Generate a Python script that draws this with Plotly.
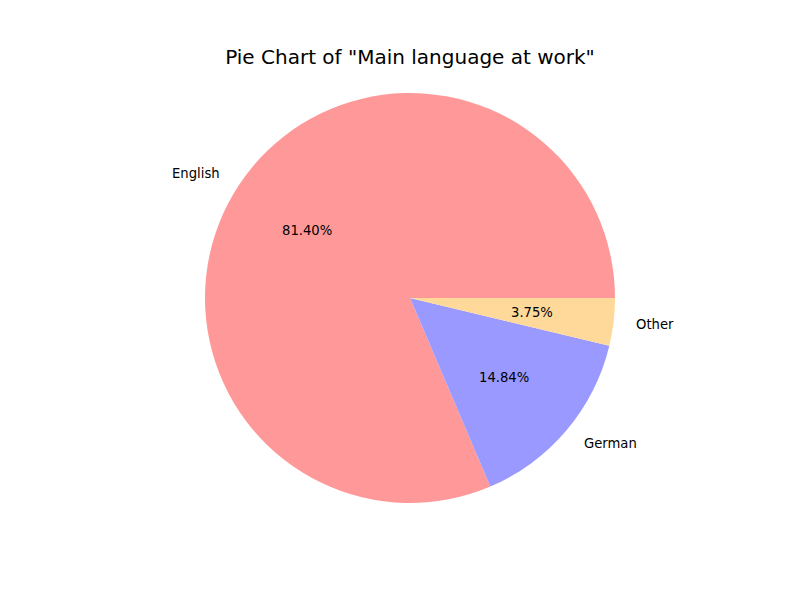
import math
import plotly.graph_objects as go

labels = ["English", "German", "Other"]
values = [81.40, 14.84, 3.75]
colors = ["#ff9999", "#9999ff", "#ffd999"]
title = 'Pie Chart of "Main language at work"'

W, H = 800, 600
cx, cy, r = 410, 298, 205  # pixel geometry of the pie

total = sum(values)
# counterclockwise from 3 o'clock (matplotlib startangle=0)
rot = 90 + 360 * (total - values[0]) / total

fig = go.Figure()
fig.add_trace(go.Pie(
    labels=labels, values=values, sort=False, direction="counterclockwise",
    rotation=rot, marker=dict(colors=colors, line=dict(width=0)),
    textinfo="none", hoverinfo="label+percent", showlegend=False,
    domain=dict(x=[(cx - r) / W, (cx + r) / W], y=[1 - (cy + r) / H, 1 - (cy - r) / H]),
))

ann = []
start = 0.0
for lab, v in zip(labels, values):
    frac = v / total
    mid = math.radians((start + frac / 2) * 360)
    start += frac
    c, s = math.cos(mid), math.sin(mid)
    # outer label at 1.1 r
    lx = cx + 1.1 * r * c
    ly = cy - 1.1 * r * s
    ann.append(dict(x=lx / W, y=1 - ly / H, xref="paper", yref="paper", text=lab,
                    showarrow=False, xanchor="left" if c > 0 else "right", yanchor="middle",
                    font=dict(family="DejaVu Sans", size=13.2, color="black")))
    # percent at 0.6 r
    px = cx + 0.6 * r * c
    py = cy - 0.6 * r * s
    ann.append(dict(x=px / W, y=1 - py / H, xref="paper", yref="paper", text=f"{v:.2f}%",
                    showarrow=False, xanchor="center", yanchor="middle",
                    font=dict(family="DejaVu Sans", size=13.2, color="black")))

fig.update_layout(
    width=W, height=H, margin=dict(l=0, r=0, t=0, b=0),
    paper_bgcolor="white", plot_bgcolor="white",
    title=dict(text=title, x=410 / W, xanchor="center", y=1 - 57 / H, yanchor="middle",
               font=dict(family="DejaVu Sans", size=20, color="black")),
    annotations=ann,
)
fig.write_html("out.html")
